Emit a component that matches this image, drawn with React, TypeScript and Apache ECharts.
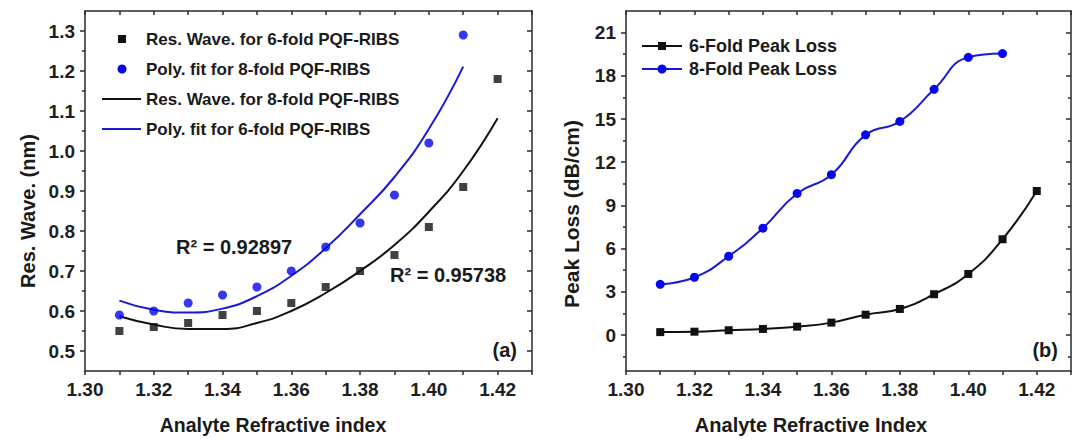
import React, { useEffect, useRef } from 'react';
import * as echarts from 'echarts';

// Analyte refractive index samples
const refractiveIndex = [1.31, 1.32, 1.33, 1.34, 1.35, 1.36, 1.37, 1.38, 1.39, 1.4, 1.41, 1.42];

// Panel (a): resonance wavelength (nm)
const resWave6 = [0.55, 0.56, 0.57, 0.59, 0.6, 0.62, 0.66, 0.7, 0.74, 0.81, 0.91, 1.18];
const resWave8 = [0.59, 0.6, 0.62, 0.64, 0.66, 0.7, 0.76, 0.82, 0.89, 1.02, 1.29];
const fitCurve6 = [0.587, 0.566, 0.555, 0.555, 0.57, 0.6, 0.645, 0.7, 0.765, 0.848, 0.95, 1.082];
const fitCurve8 = [0.626, 0.603, 0.596, 0.606, 0.637, 0.688, 0.757, 0.842, 0.935, 1.055, 1.211];

// Panel (b): peak loss (dB/cm)
const peakLoss6 = [0.2, 0.23, 0.33, 0.42, 0.58, 0.86, 1.41, 1.81, 2.83, 4.24, 6.65, 10.0];
const peakLoss8 = [3.52, 4.01, 5.47, 7.42, 9.83, 11.13, 13.9, 14.83, 17.06, 19.28, 19.54];

// Tick positions and labels
const xLabelValues = [1.3, 1.32, 1.34, 1.36, 1.38, 1.4, 1.42];
const xTickValues = [1.3, 1.31, 1.32, 1.33, 1.34, 1.35, 1.36, 1.37, 1.38, 1.39, 1.4, 1.41, 1.42, 1.43];
const waveLabelValues = [0.5, 0.6, 0.7, 0.8, 0.9, 1.0, 1.1, 1.2, 1.3];
const waveMinorValues = [0.55, 0.65, 0.75, 0.85, 0.95, 1.05, 1.15, 1.25];
const lossLabelValues = [0, 3, 6, 9, 12, 15, 18, 21];
const lossMinorValues = [-1.5, 1.5, 4.5, 7.5, 10.5, 13.5, 16.5, 19.5];

const legendA = [
  'Res. Wave. for 6-fold PQF-RIBS',
  'Poly. fit for 8-fold PQF-RIBS',
  'Res. Wave. for 8-fold PQF-RIBS',
  'Poly. fit for 6-fold PQF-RIBS',
];
const legendB = ['6-Fold Peak Loss', '8-Fold Peak Loss'];

const FONT = "'Liberation Sans', Arial, Helvetica, sans-serif";
const AXIS = '#2a2a2a';
const BLACK = '#111111';
const BLUE = '#0505ee';
const BLUE_LINE = '#1a1ad2';

const pairs = (xs: number[], ys: number[]) => ys.map((y, i) => [xs[i], y]);

const lineStyle = { color: AXIS, width: 1.5 };

function xAxes(gridIndex: number) {
  const base = {
    type: 'value',
    gridIndex,
    min: 1.3,
    max: 1.43,
    splitLine: { show: false },
  };
  return [
    {
      ...base,
      position: 'bottom',
      axisLine: { show: true, onZero: false, lineStyle },
      axisTick: { show: true, length: 4, customValues: xTickValues, lineStyle },
      axisLabel: {
        show: true,
        customValues: xLabelValues,
        formatter: (v: number) => v.toFixed(2),
        margin: 9,
        fontSize: 19,
        fontWeight: 'bold',
        color: '#1e1e1e',
        fontFamily: FONT,
      },
    },
    {
      ...base,
      position: 'top',
      axisLine: { show: true, onZero: false, lineStyle },
      axisTick: { show: true, inside: true, length: 4, customValues: xTickValues, lineStyle },
      axisLabel: { show: false },
    },
  ];
}

function yAxes(
  gridIndex: number,
  min: number,
  max: number,
  labels: number[],
  minors: number[],
  fmt: (v: number) => string,
) {
  const base = { type: 'value', gridIndex, min, max, splitLine: { show: false } };
  return [
    {
      ...base,
      position: 'left',
      axisLine: { show: true, onZero: false, lineStyle },
      axisTick: { show: true, length: 5, customValues: labels, lineStyle },
      axisLabel: {
        show: true,
        customValues: labels,
        formatter: fmt,
        margin: 10,
        fontSize: 19,
        fontWeight: 'bold',
        color: '#1e1e1e',
        fontFamily: FONT,
      },
    },
    {
      ...base,
      position: 'left',
      axisLine: { show: false },
      axisTick: { show: true, length: 3, customValues: minors, lineStyle },
      axisLabel: { show: false },
    },
    {
      ...base,
      position: 'right',
      axisLine: { show: true, onZero: false, lineStyle },
      axisTick: { show: true, inside: true, length: 5, customValues: labels, lineStyle },
      axisLabel: { show: false },
    },
    {
      ...base,
      position: 'right',
      axisLine: { show: false },
      axisTick: { show: true, inside: true, length: 3, customValues: minors, lineStyle },
      axisLabel: { show: false },
    },
  ];
}

const textStyle = (size: number) => ({
  fontFamily: FONT,
  fontWeight: 'bold',
  fontSize: size,
  fill: '#1a1a1a',
});

function buildOption() {
  const legendTextA = (y: number, text: string) => ({
    type: 'text',
    x: 146,
    y,
    style: { ...textStyle(17), text, textVerticalAlign: 'middle' },
  });
  const legendTextB = (y: number, text: string) => ({
    type: 'text',
    x: 689,
    y,
    style: { ...textStyle(18), text, textVerticalAlign: 'middle' },
  });

  return {
    animation: false,
    backgroundColor: '#ffffff',
    grid: [
      { left: 85, top: 11, width: 447, height: 360 },
      { left: 626, top: 11, width: 445, height: 360 },
    ],
    xAxis: [...xAxes(0), ...xAxes(1)],
    yAxis: [
      ...yAxes(0, 0.45, 1.35, waveLabelValues, waveMinorValues, (v) => v.toFixed(1)),
      ...yAxes(1, -2.5, 22.5, lossLabelValues, lossMinorValues, (v) => String(Math.round(v))),
    ],
    series: [
      {
        name: legendA[2],
        type: 'line',
        xAxisIndex: 0,
        yAxisIndex: 0,
        data: pairs(refractiveIndex, fitCurve6),
        smooth: 0.5,
        showSymbol: false,
        symbol: 'none',
        lineStyle: { color: BLACK, width: 2 },
        z: 2,
      },
      {
        name: legendA[3],
        type: 'line',
        xAxisIndex: 0,
        yAxisIndex: 0,
        data: pairs(refractiveIndex, fitCurve8),
        smooth: 0.5,
        showSymbol: false,
        symbol: 'none',
        lineStyle: { color: BLUE_LINE, width: 2 },
        z: 2,
      },
      {
        name: legendA[0],
        type: 'scatter',
        xAxisIndex: 0,
        yAxisIndex: 0,
        data: pairs(refractiveIndex, resWave6),
        symbol: 'rect',
        symbolSize: 8,
        itemStyle: { color: BLACK },
        z: 3,
      },
      {
        name: legendA[1],
        type: 'scatter',
        xAxisIndex: 0,
        yAxisIndex: 0,
        data: pairs(refractiveIndex, resWave8),
        symbol: 'circle',
        symbolSize: 9,
        itemStyle: { color: BLUE },
        z: 3,
      },
      {
        name: legendB[0],
        type: 'line',
        xAxisIndex: 2,
        yAxisIndex: 4,
        data: pairs(refractiveIndex, peakLoss6),
        smooth: 0.5,
        symbol: 'rect',
        symbolSize: 8,
        itemStyle: { color: BLACK },
        lineStyle: { color: BLACK, width: 2 },
      },
      {
        name: legendB[1],
        type: 'line',
        xAxisIndex: 2,
        yAxisIndex: 4,
        data: pairs(refractiveIndex, peakLoss8),
        smooth: 0.5,
        symbol: 'circle',
        symbolSize: 9,
        itemStyle: { color: BLUE },
        lineStyle: { color: BLUE_LINE, width: 2 },
      },
    ],
    graphic: [
      // Panel (a) legend
      { type: 'rect', shape: { x: 118, y: 35, width: 8, height: 8 }, style: { fill: BLACK } },
      legendTextA(39, legendA[0]),
      { type: 'circle', shape: { cx: 122, cy: 69, r: 4.5 }, style: { fill: BLUE } },
      legendTextA(69, legendA[1]),
      { type: 'line', shape: { x1: 102, y1: 99, x2: 141, y2: 99 }, style: { stroke: BLACK, lineWidth: 2 } },
      legendTextA(99, legendA[2]),
      { type: 'line', shape: { x1: 102, y1: 129, x2: 141, y2: 129 }, style: { stroke: BLUE_LINE, lineWidth: 2 } },
      legendTextA(129, legendA[3]),
      // Panel (a) annotations
      { type: 'text', x: 176, y: 247, style: { ...textStyle(20), text: 'R² = 0.92897', textVerticalAlign: 'middle' } },
      { type: 'text', x: 390, y: 275, style: { ...textStyle(20), text: 'R² = 0.95738', textVerticalAlign: 'middle' } },
      { type: 'text', x: 517, y: 350, style: { ...textStyle(20), text: '(a)', textAlign: 'right', textVerticalAlign: 'middle' } },
      {
        type: 'text',
        x: 28,
        y: 211,
        rotation: Math.PI / 2,
        style: { ...textStyle(20), text: 'Res. Wave. (nm)', textAlign: 'center', textVerticalAlign: 'middle' },
      },
      {
        type: 'text',
        x: 273,
        y: 425,
        style: { ...textStyle(19.5), text: 'Analyte Refractive index', textAlign: 'center', textVerticalAlign: 'middle' },
      },
      // Panel (b) legend
      { type: 'line', shape: { x1: 642, y1: 46, x2: 682, y2: 46 }, style: { stroke: BLACK, lineWidth: 2 } },
      { type: 'rect', shape: { x: 658, y: 42, width: 8, height: 8 }, style: { fill: BLACK } },
      legendTextB(46, legendB[0]),
      { type: 'line', shape: { x1: 642, y1: 69, x2: 682, y2: 69 }, style: { stroke: BLUE_LINE, lineWidth: 2 } },
      { type: 'circle', shape: { cx: 662, cy: 69, r: 4.5 }, style: { fill: BLUE } },
      legendTextB(69, legendB[1]),
      // Panel (b) annotations
      { type: 'text', x: 1058, y: 350, style: { ...textStyle(20), text: '(b)', textAlign: 'right', textVerticalAlign: 'middle' } },
      {
        type: 'text',
        x: 571,
        y: 214,
        rotation: Math.PI / 2,
        style: { ...textStyle(21), text: 'Peak Loss (dB/cm)', textAlign: 'center', textVerticalAlign: 'middle' },
      },
      {
        type: 'text',
        x: 811,
        y: 425,
        style: { ...textStyle(20), text: 'Analyte Refractive Index', textAlign: 'center', textVerticalAlign: 'middle' },
      },
    ],
  };
}

export default function App() {
  const ref = useRef<HTMLDivElement>(null);

  useEffect(() => {
    if (!ref.current) return;
    const chart = echarts.init(ref.current, undefined, { renderer: 'svg' });
    chart.setOption(buildOption() as any);
    return () => chart.dispose();
  }, []);

  return (
    <div
      ref={ref}
      style={{ position: 'absolute', left: 0, top: 0, width: 1072, height: 439, background: '#fff' }}
    />
  );
}
